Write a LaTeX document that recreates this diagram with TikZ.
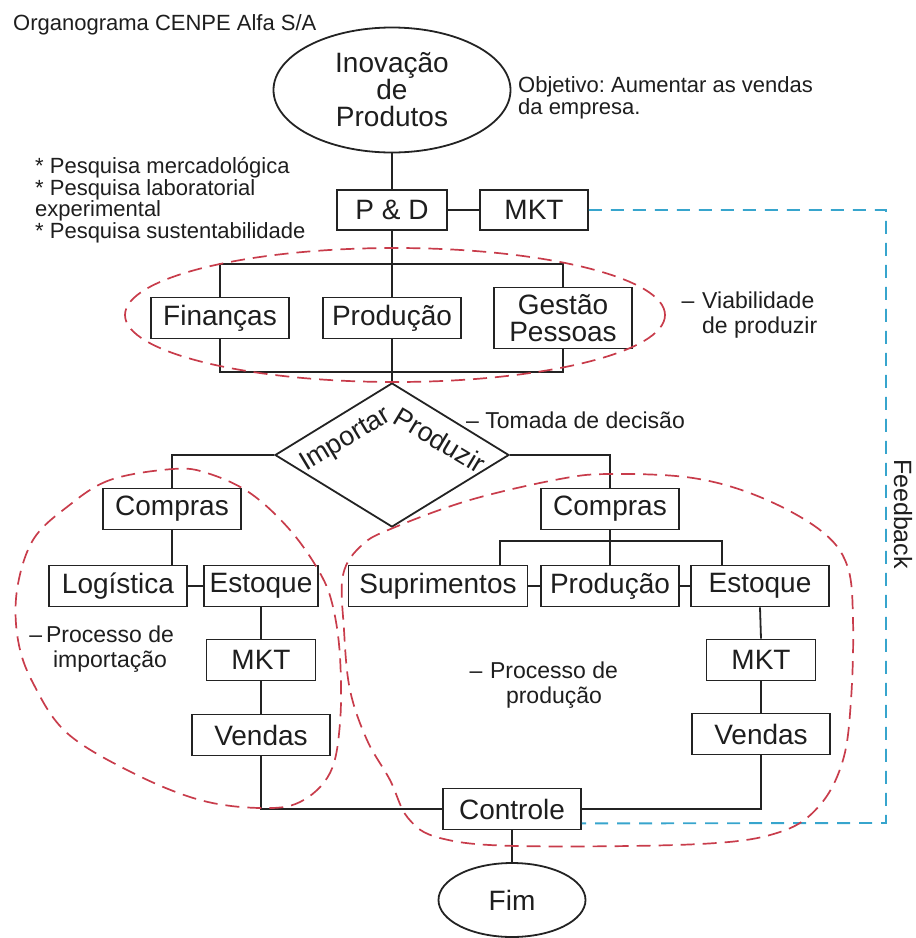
\documentclass[tikz,border=0pt]{standalone}
\usepackage{fontspec}
\setmainfont{Liberation Sans}
\usetikzlibrary{shapes.geometric,calc}
\definecolor{lineGray}{RGB}{35,35,35}
\definecolor{textGray}{RGB}{30,30,30}
\definecolor{zoneRed}{RGB}{200,60,75}
\definecolor{fbBlue}{RGB}{55,165,205}
\frenchspacing

\tikzset{
  unit/.style={draw=lineGray, line width=1.8pt, minimum width=138pt, minimum height=41pt,
    inner sep=0pt, text=textGray, font=\fontsize{28}{27}\selectfont},
  link/.style={draw=lineGray, line width=1.8pt},
  zone/.style={zoneRed, line width=1.7pt, dash pattern=on 14pt off 8pt},
  fback/.style={fbBlue, line width=1.9pt, dash pattern=on 13pt off 9pt},
  note/.style={text=textGray, inner sep=0pt, align=left, font=\fontsize{22}{21.5}\selectfont},
  tag/.style={text=textGray, inner sep=0pt, font=\fontsize{23}{25}\selectfont},
}

\begin{document}
\begin{tikzpicture}[x=1pt, y=-1pt]
  \useasboundingbox (0,0) rectangle (916,938);
  % titles and notes
  \node[note, anchor=west] (title) at (13,25) {Organograma CENPE Alfa S/A};
  \node[note, anchor=west] (goal) at (518,98) {Objetivo: Aumentar as vendas\\da empresa.};
  \node[note, anchor=west] (research) at (35,200) {* Pesquisa mercadológica\\* Pesquisa laboratorial\\experimental\\* Pesquisa sustentabilidade};

  % top of the chart
  \node[unit, ellipse, minimum width=237pt, minimum height=125pt, align=center] (inov) at (392,90) {Inovação\\de\\Produtos};
  \node[unit, minimum width=110pt, minimum height=40pt] (pd) at (392,210) {P \& D};
  \node[unit, minimum width=108pt, minimum height=40pt] (mktTop) at (534,210) {MKT};
  \node[unit] (fin) at (220,318) {Finanças};
  \node[unit] (prodTop) at (392,318) {Produção};
  \node[unit, minimum height=61pt, align=center] (gestao) at (563,318) {Gestão\\Pessoas};
  \coordinate (busTop) at (392,264);
  \coordinate (busBot) at (392,372);

  % decision
  \node[diamond, draw=lineGray, line width=1.8pt, minimum width=234pt, minimum height=144pt, inner sep=0pt] (decide) at (392,455) {};
  \node[tag, font=\fontsize{27}{27}\selectfont, rotate=31] (imp) at (346,440) {Importar};
  \node[tag, font=\fontsize{27}{27}\selectfont, rotate=-31] (prz) at (440,440) {Produzir};

  % import branch
  \node[unit] (comprasL) at (172,509) {Compras};
  \node[unit] (logL) at (118,586) {Logística};
  \node[unit, minimum width=114pt] (estL) at (261,586) {Estoque};
  \node[unit, minimum width=109pt] (mktL) at (261,660) {MKT};
  \node[unit] (vendL) at (261,735) {Vendas};

  % production branch
  \node[unit] (comprasR) at (610,509) {Compras};
  \node[unit, minimum width=179pt] (supr) at (438,586) {Suprimentos};
  \node[unit] (prodR) at (610,586) {Produção};
  \node[unit] (estR) at (760,586) {Estoque};
  \node[unit, minimum width=109pt] (mktR) at (761,660) {MKT};
  \node[unit] (vendR) at (761,734) {Vendas};
  \coordinate (busR) at (610,541);

  % end
  \node[unit] (controle) at (512,809) {Controle};
  \node[unit, ellipse, minimum width=147pt, minimum height=74pt] (fim) at (512,900) {Fim};

  % connectors
  \draw[link] (inov.south) -- (pd.north);
  \draw[link] (pd.east) -- (mktTop.west);
  \draw[link] (pd.south) -- (prodTop.north);
  \draw[link] (fin.north) |- (busTop) -| (gestao.north);
  \draw[link] (fin.south) |- (busBot) -| (gestao.south);
  \draw[link] (prodTop.south) -- (decide.north);
  \draw[link] (decide.west) -| (comprasL.north);
  \draw[link] (decide.east) -| (comprasR.north);
  \draw[link] (comprasL.south) -- (comprasL.south |- logL.north);
  \draw[link] (logL.east) -- (estL.west);
  \draw[link] (estL.south) -- (mktL.north);
  \draw[link] (mktL.south) -- (vendL.north);
  \draw[link] (vendL.south) |- (controle.west);
  \draw[link] (comprasR.south) -- (prodR.north);
  \draw[link] ($(supr.north)+(62,0)$) |- (busR) -| ($(estR.north)+(-38,0)$);
  \draw[link] (supr.east) -- (prodR.west);
  \draw[link] (prodR.east) -- (estR.west);
  \draw[link] (estR.south) -- (mktR.north);
  \draw[link] (mktR.south) -- (vendR.north);
  \draw[link] (vendR.south) |- (controle.east);
  \draw[link] (controle.south) -- (fim.north);

  % feedback loop
  \coordinate (fbTop) at (886,210);
  \coordinate (fbBot) at (886,823);
  \draw[fback] (mktTop.east) -- (fbTop) -- (fbBot) -- ($(controle.south east)+(0,-7)$);
  \node[tag, font=\fontsize{25}{25}\selectfont, rotate=-90] (fbText) at (903,514) {Feedback};

  % dashed zones
  \draw[zone] (395,315) ellipse [x radius=270pt, y radius=67pt];
  \draw[zone] plot[smooth cycle, tension=0.6] coordinates {(173,469) (110,480) (67,507) (33,540) (17,590) (18,640) (33,683) (67,733) (133,773) (200,800) (260,808) (300,802) (330,773) (340,723) (340,657) (333,607) (320,573) (290,530) (250,493) (207,473)};
  \draw[zone] plot[smooth cycle, tension=0.6] coordinates {(393,528) (470,500) (560,479) (611,474) (693,478) (760,497) (820,530) (847,565) (853,620) (851,700) (843,760) (820,805) (780,832) (700,844) (517,846) (440,838) (408,818) (390,780) (367,740) (350,690) (344,630) (343,575) (362,545)};

  % zone labels
  \node[tag, anchor=west, align=left] (viab) at (702,315) {\llap{--\,\,}Viabilidade\\de produzir};
  \node[tag, anchor=west] (tomada) at (466,420) {-- Tomada de decisão};
  \node[tag, align=center] (impLbl) at (110,649) {\llap{--\,}Processo de\\importação};
  \node[tag, align=center] (prodLbl) at (554,685) {\llap{--\,\,}Processo de\\produção};
\end{tikzpicture}
\end{document}
